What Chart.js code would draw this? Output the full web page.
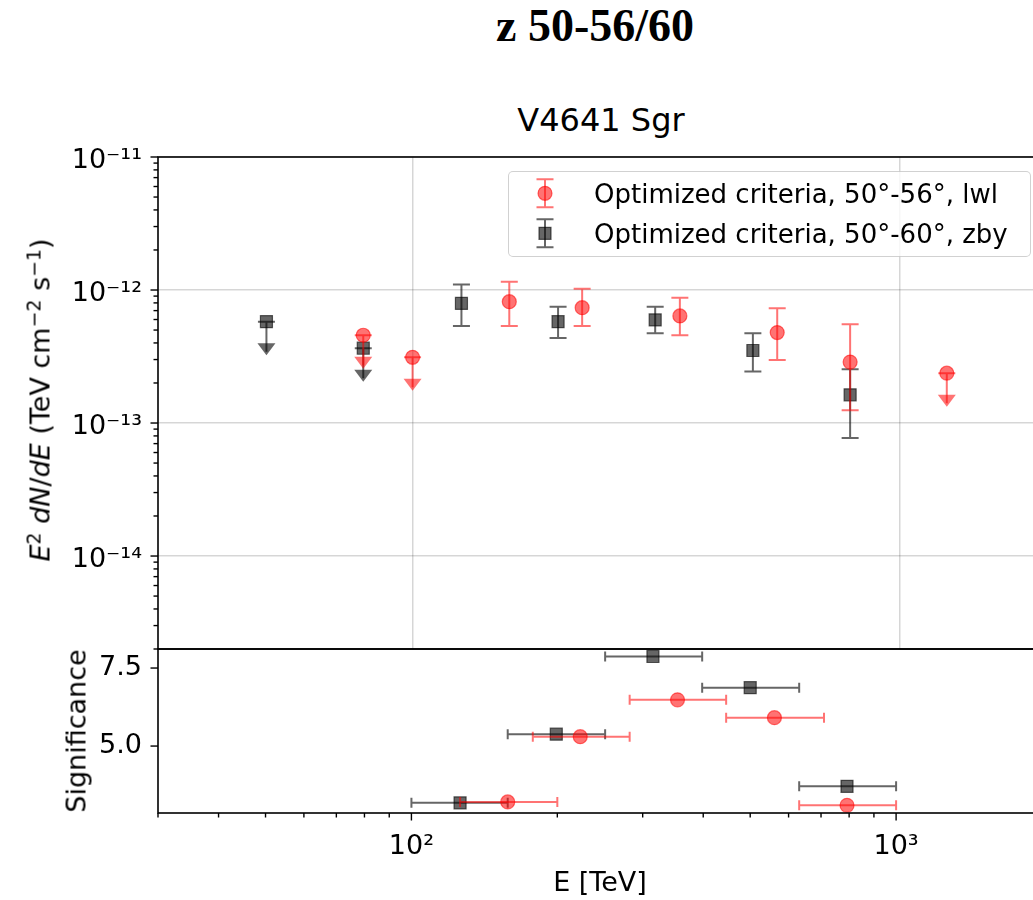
<!DOCTYPE html>
<html>
<head>
<meta charset="utf-8">
<script src="https://cdn.jsdelivr.net/npm/chart.js@4.4.1/dist/chart.umd.min.js"></script>
<style>
html,body{margin:0;padding:0;background:#fff;overflow:hidden;width:1033px;height:900px;}
#wrap{position:relative;width:1033px;height:900px;overflow:hidden;background:#fff;}
canvas{position:absolute;left:0;}
.t{position:absolute;white-space:nowrap;line-height:1;color:#000;font-family:'DejaVu Sans',sans-serif;}
.t sup{font-size:0.7em;line-height:0;vertical-align:0.5em;}
#legend{position:absolute;left:508px;top:171px;width:523px;height:86px;border:1px solid rgba(0,0,0,0.18);border-radius:5px;background:rgba(255,255,255,0.8);box-sizing:border-box;}
</style>
</head>
<body>
<div id="wrap">
  <div class="t" style="font-family:'Liberation Serif','Times New Roman',serif;font-weight:bold;font-size:46px;left:595px;top:3px;transform:translateX(-50%);">z 50-56/60</div>
  <div class="t" style="font-size:32px;left:601px;top:104px;transform:translateX(-50%);">V4641 Sgr</div>

  <canvas id="fluxChart" width="1060" height="589" style="top:100px;width:1060px;height:589px;"></canvas>
  <canvas id="sigChart" width="1060" height="291" style="top:609px;width:1060px;height:291px;"></canvas>

  <div id="legend"></div>
  <canvas id="legendMarks" width="40" height="80" style="left:525px;top:173px;width:40px;height:80px;"></canvas>
  <div class="t" id="leg1" style="font-size:26px;left:594px;top:181px;"></div>
  <div class="t" id="leg2" style="font-size:26px;left:594px;top:221px;"></div>

  <div class="t" style="font-size:27px;left:40px;top:400px;transform:translate(-50%,-50%) rotate(-90deg);"><i>E</i><sup>2</sup> <i>dN</i>/<i>dE</i> (TeV cm<sup>−2</sup> s<sup>−1</sup>)</div>
  <div class="t" style="font-size:27px;left:76px;top:731px;transform:translate(-50%,-50%) rotate(-90deg);">Significance</div>
  <div class="t" style="font-size:27px;left:600px;top:868px;transform:translateX(-50%);">E [TeV]</div>
</div>

<script>
// ---------------- data ----------------
const seriesNames = ['Optimized criteria, 50°-56°, lwl', 'Optimized criteria, 50°-60°, zby'];

// lwl (red circles) – spectrum
const lwlEnergy      = [79.2, 100, 158, 223, 354, 561, 792, 1251];
const lwlFlux        = [4.57e-13, 3.12e-13, 8.17e-13, 7.36e-13, 6.38e-13, 4.79e-13, 2.87e-13, 2.37e-13];
const lwlFluxLow     = [null, null, 5.37e-13, 5.37e-13, 4.57e-13, 2.98e-13, 1.25e-13, null];
const lwlFluxHigh    = [null, null, 1.155e-12, 1.02e-12, 8.75e-13, 7.30e-13, 5.53e-13, null];
const lwlUpperLimit  = [true, true, false, false, false, false, false, true];

// zby (black squares) – spectrum
const zbyEnergy      = [50.1, 79.2, 126, 199, 315, 500, 792];
const zbyFlux        = [5.78e-13, 3.65e-13, 7.94e-13, 5.78e-13, 5.96e-13, 3.51e-13, 1.63e-13];
const zbyFluxLow     = [null, null, 5.37e-13, 4.35e-13, 4.73e-13, 2.44e-13, 7.7e-14];
const zbyFluxHigh    = [null, null, 1.10e-12, 7.5e-13, 7.5e-13, 4.73e-13, 2.54e-13];
const zbyUpperLimit  = [true, true, false, false, false, false, false];

// significance panel
const lwlSigEnergy     = [158, 223, 354, 561, 792];
const lwlSigEnergyLow  = [126, 178, 282, 446, 631];
const lwlSigEnergyHigh = [200, 282, 446, 710, 1000];
const lwlSignificance  = [3.21, 5.30, 6.48, 5.91, 3.10];

const zbySigEnergy     = [126, 199, 315, 500, 792];
const zbySigEnergyLow  = [100, 158, 251, 398, 631];
const zbySigEnergyHigh = [158, 251, 398, 631, 1000];
const zbySignificance  = [3.18, 5.38, 7.87, 6.87, 3.71];

// axis ranges and tick labels
const energyRange = [30, 2000];
const fluxRange = [2e-15, 1e-11];
const sigRange = [2.855, 8.11];
const energyTickValues = [100, 1000];
const energyTickLabels = ['10²', '10³'];
const fluxTickValues = [1e-14, 1e-13, 1e-12, 1e-11];
const fluxTickLabels = ['10⁻¹⁴', '10⁻¹³', '10⁻¹²', '10⁻¹¹'];
const sigTickValues = [5.0, 7.5];
const sigTickLabels = ['5.0', '7.5'];

// ---------------- styles ----------------
const RED_FILL = 'rgba(255,0,0,0.55)';
const RED_LINE = 'rgba(255,0,0,0.55)';
const BLK_FILL = 'rgba(0,0,0,0.6)';
const BLK_LINE = 'rgba(0,0,0,0.6)';
const GRID = 'rgba(0,0,0,0.16)';
const FONT = 'DejaVu Sans';
const ERR_W = 2, CAP = 8.5, HCAP = 5;

document.getElementById('leg1').textContent = seriesNames[0];
document.getElementById('leg2').textContent = seriesNames[1];

function logMinorTicks(min, max) {
  const out = [];
  const lo = Math.floor(Math.log10(min)), hi = Math.ceil(Math.log10(max));
  for (let d = lo; d <= hi; d++) {
    for (let m = 1; m <= 9; m++) {
      const v = m * Math.pow(10, d);
      if (v >= min * 0.9999 && v <= max * 1.0001) out.push(v);
    }
  }
  return out;
}
function isDecade(v) { const l = Math.log10(v); return Math.abs(l - Math.round(l)) < 1e-6; }
function labelFrom(values, labels, v) {
  for (let i = 0; i < values.length; i++) if (Math.abs(values[i] - v) <= Math.abs(v) * 1e-6) return labels[i];
  return '';
}

// ---------------- drawing helpers ----------------
function drawVErr(ctx, x, yTop, yBot) {
  ctx.beginPath();
  ctx.moveTo(x, yTop); ctx.lineTo(x, yBot);
  ctx.moveTo(x - CAP, yTop); ctx.lineTo(x + CAP, yTop);
  ctx.moveTo(x - CAP, yBot); ctx.lineTo(x + CAP, yBot);
  ctx.stroke();
}
function drawHErr(ctx, xL, xR, y) {
  ctx.beginPath();
  ctx.moveTo(xL, y); ctx.lineTo(xR, y);
  ctx.moveTo(xL, y - HCAP); ctx.lineTo(xL, y + HCAP);
  ctx.moveTo(xR, y - HCAP); ctx.lineTo(xR, y + HCAP);
  ctx.stroke();
}
function drawUpperLimit(ctx, x, y) {
  ctx.beginPath();
  ctx.moveTo(x - CAP, y); ctx.lineTo(x + CAP, y);
  ctx.moveTo(x, y); ctx.lineTo(x, y + 30);
  ctx.stroke();
  ctx.beginPath();
  ctx.moveTo(x - 9, y + 21.5); ctx.lineTo(x + 9, y + 21.5); ctx.lineTo(x, y + 33.5);
  ctx.closePath();
  ctx.fill();
}

const errorBarPlugin = {
  id: 'errbars',
  beforeDatasetDraw(chart, args) {
    const ds = chart.data.datasets[args.index];
    const meta = args.meta;
    const ctx = chart.ctx, ca = chart.chartArea;
    const xs = chart.scales.x, ys = chart.scales.y;
    ctx.save();
    ctx.beginPath(); ctx.rect(ca.left, ca.top, ca.right - ca.left, ca.bottom - ca.top); ctx.clip();
    ctx.strokeStyle = ds.errColor; ctx.fillStyle = ds.errColor; ctx.lineWidth = ERR_W;
    meta.data.forEach((pt, i) => {
      if (ds.upperLimit && ds.upperLimit[i]) {
        drawUpperLimit(ctx, pt.x, pt.y);
      } else if (ds.yLow && ds.yLow[i] != null) {
        drawVErr(ctx, pt.x, ys.getPixelForValue(ds.yHigh[i]), ys.getPixelForValue(ds.yLow[i]));
      }
      if (ds.xLow) {
        drawHErr(ctx, xs.getPixelForValue(ds.xLow[i]), xs.getPixelForValue(ds.xHigh[i]), pt.y);
      }
    });
    ctx.restore();
  }
};

const framePlugin = {
  id: 'frame',
  afterDraw(chart) {
    const ctx = chart.ctx, ca = chart.chartArea;
    ctx.save();
    ctx.strokeStyle = '#000'; ctx.lineWidth = 1.6;
    ctx.strokeRect(ca.left, ca.top, ca.right - ca.left, ca.bottom - ca.top);
    ctx.lineWidth = 1.4;
    Object.values(chart.scales).forEach(s => {
      if (s.options.mplTicks !== true) return;
      const logScale = s.type === 'logarithmic';
      s.ticks.forEach(t => {
        const major = logScale ? isDecade(t.value) : true;
        const len = major ? 7.5 : 4.5;
        const p = s.getPixelForValue(t.value);
        ctx.beginPath();
        if (s.isHorizontal()) { ctx.moveTo(p, ca.bottom); ctx.lineTo(p, ca.bottom + len); }
        else { ctx.moveTo(ca.left, p); ctx.lineTo(ca.left - len, p); }
        ctx.stroke();
      });
    });
    ctx.restore();
  }
};

Chart.defaults.font.family = FONT;
Chart.defaults.color = '#000';

function pts(xs, ys) { return xs.map((x, i) => ({ x: x, y: ys[i] })); }

// ---------------- top panel: spectrum ----------------
new Chart(document.getElementById('fluxChart'), {
  type: 'scatter',
  data: {
    datasets: [
      { label: seriesNames[0], data: pts(lwlEnergy, lwlFlux),
        yLow: lwlFluxLow, yHigh: lwlFluxHigh, upperLimit: lwlUpperLimit, errColor: RED_LINE,
        pointStyle: 'circle', pointRadius: 7, pointBorderWidth: 1.2,
        backgroundColor: RED_FILL, borderColor: RED_FILL },
      { label: seriesNames[1], data: pts(zbyEnergy, zbyFlux),
        yLow: zbyFluxLow, yHigh: zbyFluxHigh, upperLimit: zbyUpperLimit, errColor: BLK_LINE,
        pointStyle: 'rect', pointRadius: 8.5, pointBorderWidth: 1.2,
        backgroundColor: BLK_FILL, borderColor: BLK_FILL }
    ]
  },
  options: {
    responsive: false, animation: false, devicePixelRatio: 1, events: [],
    layout: { padding: { top: 57, right: 14, left: 0, bottom: 0 } },
    plugins: { legend: { display: false }, tooltip: { enabled: false }, title: { display: false } },
    scales: {
      x: {
        type: 'logarithmic', min: energyRange[0], max: energyRange[1], position: 'bottom',
        afterBuildTicks: s => { s.ticks = energyTickValues.map(v => ({ value: v })); },
        afterFit: s => { s.height = 40; },
        ticks: { display: false },
        grid: { color: GRID, lineWidth: 1.5, drawTicks: false },
        border: { display: false }
      },
      y: {
        type: 'logarithmic', min: fluxRange[0], max: fluxRange[1], position: 'left',
        mplTicks: true,
        afterBuildTicks: s => { s.ticks = logMinorTicks(fluxRange[0], fluxRange[1]).map(v => ({ value: v })); },
        afterFit: s => { s.width = 158; },
        ticks: { autoSkip: false, padding: 16, labelOffset: 4, font: { size: 27, family: FONT }, color: '#000',
                 callback: v => labelFrom(fluxTickValues, fluxTickLabels, v) },
        grid: { color: c => (c.tick && isDecade(c.tick.value)) ? GRID : 'rgba(0,0,0,0)', lineWidth: 1.5, drawTicks: false },
        border: { display: false }
      }
    }
  },
  plugins: [errorBarPlugin, framePlugin]
});

// ---------------- bottom panel: significance ----------------
new Chart(document.getElementById('sigChart'), {
  type: 'scatter',
  data: {
    datasets: [
      { label: seriesNames[0], data: pts(lwlSigEnergy, lwlSignificance),
        xLow: lwlSigEnergyLow, xHigh: lwlSigEnergyHigh, errColor: RED_LINE,
        pointStyle: 'circle', pointRadius: 7, pointBorderWidth: 1.2,
        backgroundColor: RED_FILL, borderColor: RED_FILL },
      { label: seriesNames[1], data: pts(zbySigEnergy, zbySignificance),
        xLow: zbySigEnergyLow, xHigh: zbySigEnergyHigh, errColor: BLK_LINE,
        pointStyle: 'rect', pointRadius: 8.5, pointBorderWidth: 1.2,
        backgroundColor: BLK_FILL, borderColor: BLK_FILL }
    ]
  },
  options: {
    responsive: false, animation: false, devicePixelRatio: 1, events: [],
    layout: { padding: { top: 40, right: 14, left: 0, bottom: 0 } },
    plugins: { legend: { display: false }, tooltip: { enabled: false }, title: { display: false } },
    scales: {
      x: {
        type: 'logarithmic', min: energyRange[0], max: energyRange[1], position: 'bottom',
        mplTicks: true,
        afterBuildTicks: s => { s.ticks = logMinorTicks(energyRange[0], energyRange[1]).map(v => ({ value: v })); },
        afterFit: s => { s.height = 87; },
        ticks: { autoSkip: false, maxRotation: 0, minRotation: 0, padding: 18, font: { size: 27, family: FONT }, color: '#000',
                 callback: v => labelFrom(energyTickValues, energyTickLabels, v) },
        grid: { display: false, drawTicks: false },
        border: { display: false }
      },
      y: {
        type: 'linear', min: sigRange[0], max: sigRange[1], position: 'left',
        mplTicks: true,
        afterBuildTicks: s => { s.ticks = sigTickValues.map(v => ({ value: v })); },
        afterFit: s => { s.width = 158; },
        ticks: { autoSkip: false, padding: 16, font: { size: 27, family: FONT }, color: '#000',
                 callback: v => labelFrom(sigTickValues, sigTickLabels, v) },
        grid: { display: false, drawTicks: false },
        border: { display: false }
      }
    }
  },
  plugins: [errorBarPlugin, framePlugin]
});

// ---------------- legend glyphs ----------------
(function () {
  const ctx = document.getElementById('legendMarks').getContext('2d');
  ctx.lineWidth = ERR_W;
  ctx.strokeStyle = RED_LINE;
  ctx.beginPath();
  ctx.moveTo(20, 6.3); ctx.lineTo(20, 34.3);
  ctx.moveTo(20 - CAP, 6.3); ctx.lineTo(20 + CAP, 6.3);
  ctx.moveTo(20 - CAP, 34.3); ctx.lineTo(20 + CAP, 34.3);
  ctx.stroke();
  ctx.fillStyle = RED_FILL; ctx.strokeStyle = RED_FILL; ctx.lineWidth = 1.2;
  ctx.beginPath(); ctx.arc(20, 20.3, 7, 0, Math.PI * 2); ctx.fill(); ctx.stroke();
  ctx.lineWidth = ERR_W; ctx.strokeStyle = BLK_LINE;
  ctx.beginPath();
  ctx.moveTo(20, 46.3); ctx.lineTo(20, 74.3);
  ctx.moveTo(20 - CAP, 46.3); ctx.lineTo(20 + CAP, 46.3);
  ctx.moveTo(20 - CAP, 74.3); ctx.lineTo(20 + CAP, 74.3);
  ctx.stroke();
  ctx.fillStyle = BLK_FILL; ctx.strokeStyle = BLK_FILL; ctx.lineWidth = 1.2;
  ctx.beginPath(); ctx.rect(20 - 6, 60.3 - 6, 12, 12); ctx.fill(); ctx.stroke();
})();
</script>
</body>
</html>
